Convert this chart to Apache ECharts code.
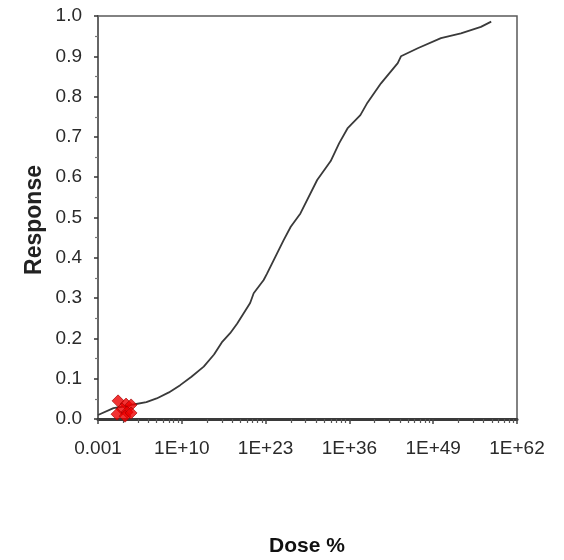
<!DOCTYPE html>
<html>
<head>
<meta charset="utf-8">
<script src="https://cdn.jsdelivr.net/npm/echarts@6/dist/echarts.min.js"></script>
<style>
  html, body { margin: 0; padding: 0; background: #fff; }
  #chart { width: 564px; height: 560px; }
</style>
</head>
<body>
<div id="chart"></div>
<script>
// Fitted dose-response curve (dose given as log10 of dose %)
const curveLogDose = [-3, -0.6, 1.0, 2.5, 4.5, 6.1, 8.0, 9.75, 11.5, 13.4, 15.0, 16.2, 17.5, 18.6,
  20.6, 21.15, 22.7, 23.2, 25.8, 26.9, 28.4, 31.0, 33.1, 34.4, 35.7, 37.7, 38.8, 40.9,
  43.5, 44.0, 46.6, 50.2, 53.3, 56.4, 58.0];
const curveResponse = [0.010, 0.027, 0.031, 0.036, 0.042, 0.051, 0.066, 0.084, 0.105, 0.130, 0.160, 0.190, 0.213, 0.237,
  0.288, 0.312, 0.345, 0.360, 0.444, 0.477, 0.510, 0.593, 0.640, 0.684, 0.721, 0.754, 0.785, 0.833,
  0.883, 0.900, 0.920, 0.945, 0.957, 0.973, 0.986];

// Observed responses (log10 of dose %)
const obsLogDose = [0.11, 1.35, 2.13, 0.73, 1.51, -0.05, 1.2, 2.13];
const obsResponse = [0.045, 0.037, 0.035, 0.025, 0.017, 0.012, 0.007, 0.015];

// Axis ticks
const xMajorLogDose = [-3, 10, 23, 36, 49, 62];
const xTickLabels = ['0.001', '1E+10', '1E+23', '1E+36', '1E+49', '1E+62'];
const yMin = 0, yMax = 1, yStep = 0.1;

// Minor ticks spaced logarithmically inside each major step
const xMinorLogDose = [];
for (let i = 0; i < xMajorLogDose.length - 1; i++) {
  const span = xMajorLogDose[i + 1] - xMajorLogDose[i];
  for (let k = 2; k <= 9; k++) xMinorLogDose.push(xMajorLogDose[i] + span * Math.log10(k));
}

const FONT = '"Liberation Sans", Arial, sans-serif';
const chart = echarts.init(document.getElementById('chart'), null, { renderer: 'canvas' });

chart.setOption({
  animation: false,
  backgroundColor: '#fff',
  grid: {
    left: 98, right: 47, top: 16, bottom: 141,
    show: true, borderColor: '#5a5a5a', borderWidth: 1.5, backgroundColor: '#fff'
  },
  xAxis: [{
    type: 'value',
    min: xMajorLogDose[0],
    max: xMajorLogDose[xMajorLogDose.length - 1],
    axisLine: { show: true, onZero: false, lineStyle: { color: '#3a3a3a', width: 3 } },
    axisTick: { show: true, customValues: xMajorLogDose, length: 5, lineStyle: { color: '#444', width: 1.5 } },
    axisLabel: {
      customValues: xMajorLogDose,
      formatter: v => xTickLabels[xMajorLogDose.indexOf(v)],
      color: '#2a2a2a', fontFamily: FONT, fontSize: 19, margin: 20
    },
    splitLine: { show: false }
  }, {
    type: 'value',
    position: 'bottom',
    min: xMajorLogDose[0],
    max: xMajorLogDose[xMajorLogDose.length - 1],
    axisLine: { show: false, onZero: false },
    axisTick: { show: true, customValues: xMinorLogDose, length: 4, lineStyle: { color: '#555', width: 1.2 } },
    axisLabel: { show: false },
    splitLine: { show: false }
  }],
  yAxis: {
    type: 'value',
    min: yMin, max: yMax, interval: yStep,
    axisLine: { show: true, onZero: false, lineStyle: { color: '#666', width: 2 } },
    axisTick: { show: true, length: 4, lineStyle: { color: '#333', width: 1.5 } },
    minorTick: { show: true, splitNumber: 2, length: 3, lineStyle: { color: '#777', width: 1.2 } },
    axisLabel: {
      formatter: v => v.toFixed(1),
      color: '#2a2a2a', fontFamily: FONT, fontSize: 19, margin: 16
    },
    splitLine: { show: false }
  },
  series: [{
    type: 'line',
    data: curveLogDose.map((d, i) => [d, curveResponse[i]]),
    showSymbol: false,
    smooth: false,
    lineStyle: { color: '#3a3a3a', width: 1.8 },
    z: 3
  }, {
    type: 'scatter',
    data: obsLogDose.map((d, i) => [d, obsResponse[i]]),
    symbol: 'diamond',
    symbolSize: 12,
    itemStyle: { color: '#ee0000', borderColor: '#a00000', borderWidth: 0.8 },
    z: 4
  }],
  graphic: [{
    type: 'text',
    x: 35, y: 220, rotation: Math.PI / 2,
    style: {
      text: 'Response', fill: '#222', font: 'bold 23px ' + FONT,
      align: 'center', verticalAlign: 'middle'
    }
  }, {
    type: 'text',
    x: 307, y: 546,
    style: {
      text: 'Dose %', fill: '#111', font: 'bold 21px ' + FONT,
      align: 'center', verticalAlign: 'middle'
    }
  }]
});
</script>
</body>
</html>
